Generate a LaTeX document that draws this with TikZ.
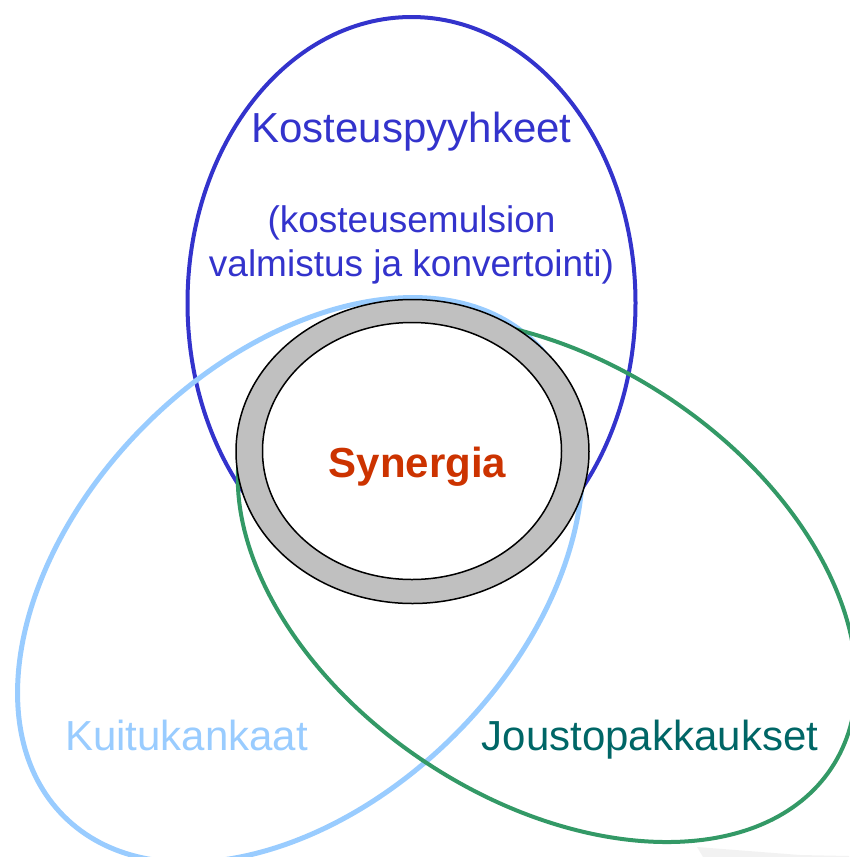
\documentclass[tikz,border=0pt]{standalone}
\usepackage{fontspec}
\setmainfont{Liberation Sans}
\definecolor{kblue}{HTML}{3333CC}
\definecolor{klight}{HTML}{99CCFF}
\definecolor{kgreen}{HTML}{339966}
\definecolor{kteal}{HTML}{006666}
\definecolor{kred}{HTML}{CC3300}
\definecolor{kgray}{HTML}{C0C0C0}
\begin{document}
\begin{tikzpicture}[x=1pt,y=-1pt,
  lbl/.style={font=\fontsize{42}{48}\selectfont, anchor=base, inner sep=0pt},
  sub/.style={font=\fontsize{37}{44}\selectfont, anchor=base, inner sep=0pt, text=kblue},
  ringline/.style={draw=black, line width=1.5pt}]
\useasboundingbox (0,0) rectangle (849,857);
\fill[black!5] (697,847) -- (800,855) -- (849,856) -- (849,857) -- (703,857) -- cycle;
% sets
\draw[kblue, line width=4pt] (411.5,303) ellipse [x radius=224pt, y radius=286pt];
\draw[klight, line width=5pt, rotate around={45:(300,580)}] (300,580) ellipse [x radius=334pt, y radius=219pt];
\draw[kgreen, line width=4pt, rotate around={-33.4:(547,580)}] (547,580) ellipse [x radius=341pt, y radius=219pt];
% ring
\path[ringline, fill=kgray] (412.5,451.5) ellipse [x radius=176.5pt, y radius=152pt];
\path[ringline, fill=white] (412,451) ellipse [x radius=149.5pt, y radius=128.5pt];
% labels
\node[lbl, text=kblue] (koste) at (411.5,142) {Kosteuspyyhkeet};
\node[sub] (sub1) at (411.5,232) {(kosteusemulsion};
\node[sub] (sub2) at (411.5,276) {valmistus ja konvertointi)};
\node[lbl, text=kred, font=\fontsize{42}{48}\selectfont\bfseries] (syn) at (417.5,477) {Synergia};
\node[lbl, text=klight] (kuitu) at (186.5,750) {Kuitukankaat};
\node[lbl, text=kteal] (jousto) at (650,750) {Joustopakkaukset};
\end{tikzpicture}
\end{document}
